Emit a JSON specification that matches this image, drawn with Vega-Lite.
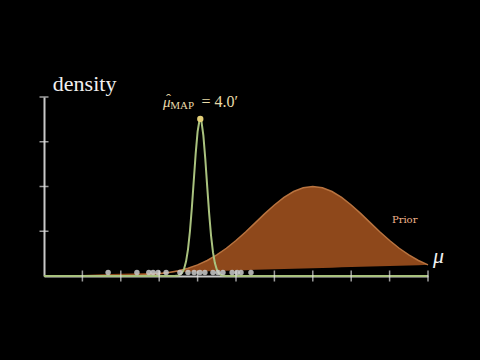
{
  "$schema": "https://vega.github.io/schema/vega-lite/v6.json",
  "width": 384,
  "height": 179,
  "autosize": "none",
  "padding": {"left": 44, "top": 97, "right": 52, "bottom": 84},
  "background": "#000000",
  "config": {"view": {"stroke": null}},
  "datasets": {
    "prior": [
      {"x": 0, "density": 0.0000, "base": 0.0000},
      {"x": 0.5, "density": 0.0001, "base": 0.0125},
      {"x": 1, "density": 0.0005, "base": 0.0249},
      {"x": 1.5, "density": 0.0018, "base": 0.0374},
      {"x": 2, "density": 0.0061, "base": 0.0498},
      {"x": 2.5, "density": 0.0184, "base": 0.0623},
      {"x": 3, "density": 0.0493, "base": 0.0747},
      {"x": 3.25, "density": 0.0771, "base": 0.0809},
      {"x": 3.5, "density": 0.1174, "base": 0.0872},
      {"x": 3.75, "density": 0.1734, "base": 0.0934},
      {"x": 4, "density": 0.2490, "base": 0.0996},
      {"x": 4.25, "density": 0.3473, "base": 0.1058},
      {"x": 4.5, "density": 0.4707, "base": 0.1121},
      {"x": 4.75, "density": 0.6196, "base": 0.1183},
      {"x": 5, "density": 0.7923, "base": 0.1245},
      {"x": 5.25, "density": 0.9844, "base": 0.1307},
      {"x": 5.5, "density": 1.1881, "base": 0.1370},
      {"x": 5.75, "density": 1.3930, "base": 0.1432},
      {"x": 6, "density": 1.5867, "base": 0.1494},
      {"x": 6.25, "density": 1.7558, "base": 0.1556},
      {"x": 6.5, "density": 1.8875, "base": 0.1619},
      {"x": 6.75, "density": 1.9713, "base": 0.1681},
      {"x": 7, "density": 2.0000, "base": 0.1743},
      {"x": 7.25, "density": 1.9713, "base": 0.1805},
      {"x": 7.5, "density": 1.8875, "base": 0.1868},
      {"x": 7.75, "density": 1.7558, "base": 0.1930},
      {"x": 8, "density": 1.5867, "base": 0.1992},
      {"x": 8.25, "density": 1.3930, "base": 0.2054},
      {"x": 8.5, "density": 1.1881, "base": 0.2117},
      {"x": 8.75, "density": 0.9844, "base": 0.2179},
      {"x": 9, "density": 0.7923, "base": 0.2241},
      {"x": 9.25, "density": 0.6196, "base": 0.2303},
      {"x": 9.5, "density": 0.4707, "base": 0.2366},
      {"x": 9.75, "density": 0.3473, "base": 0.2428},
      {"x": 10, "density": 0.2490, "base": 0.2490}
    ],
    "posterior": [
      {"x": 0, "density": 0},
      {"x": 3.3, "density": 0.0001},
      {"x": 3.4, "density": 0.0015},
      {"x": 3.5, "density": 0.0127},
      {"x": 3.55, "density": 0.0327},
      {"x": 3.6, "density": 0.0768},
      {"x": 3.65, "density": 0.1660},
      {"x": 3.7, "density": 0.3287},
      {"x": 3.75, "density": 0.5969},
      {"x": 3.8, "density": 0.9944},
      {"x": 3.85, "density": 1.5192},
      {"x": 3.9, "density": 2.1289},
      {"x": 3.95, "density": 2.7359},
      {"x": 4.0, "density": 3.2247},
      {"x": 4.05, "density": 3.4858},
      {"x": 4.07, "density": 3.5100},
      {"x": 4.1, "density": 3.4558},
      {"x": 4.15, "density": 3.1421},
      {"x": 4.2, "density": 2.6202},
      {"x": 4.25, "density": 2.0038},
      {"x": 4.3, "density": 1.4055},
      {"x": 4.35, "density": 0.9041},
      {"x": 4.4, "density": 0.5334},
      {"x": 4.45, "density": 0.2887},
      {"x": 4.5, "density": 0.1432},
      {"x": 4.55, "density": 0.0652},
      {"x": 4.6, "density": 0.0272},
      {"x": 4.65, "density": 0.0104},
      {"x": 4.75, "density": 0.0012},
      {"x": 4.85, "density": 0.0001},
      {"x": 10, "density": 0}
    ],
    "obs": [
      {"x": 1.67}, {"x": 2.42}, {"x": 2.73}, {"x": 2.84}, {"x": 2.97}, {"x": 3.18},
      {"x": 3.54}, {"x": 3.75}, {"x": 3.91}, {"x": 4.06}, {"x": 4.19}, {"x": 4.40},
      {"x": 4.53}, {"x": 4.66}, {"x": 4.90}, {"x": 5.03}, {"x": 5.13}, {"x": 5.39}
    ],
    "xticks": [{"v": 1}, {"v": 2}, {"v": 3}, {"v": 4}, {"v": 5}, {"v": 6}, {"v": 7}, {"v": 8}, {"v": 9}, {"v": 10}],
    "yticks": [{"v": 1}, {"v": 2}, {"v": 3}, {"v": 4}]
  },
  "encoding": {
    "x": {"type": "quantitative", "scale": {"domain": [0, 10], "nice": false, "zero": false},
      "axis": {"domain": true, "domainColor": "#c8c8c8", "domainWidth": 2, "ticks": false, "labels": false, "grid": false, "title": null}},
    "y": {"type": "quantitative", "scale": {"domain": [0, 4], "nice": false},
      "axis": {"domain": true, "domainColor": "#c8c8c8", "domainWidth": 2, "ticks": false, "labels": false, "grid": false, "title": null}}
  },
  "layer": [
    {
      "data": {"name": "prior"},
      "mark": {"type": "area", "color": "#8e481b", "opacity": 1},
      "encoding": {
        "x": {"field": "x", "type": "quantitative"},
        "y": {"field": "density", "type": "quantitative"},
        "y2": {"field": "base"}
      }
    },
    {
      "data": {"name": "prior"},
      "mark": {"type": "line", "color": "#b8733f", "strokeWidth": 1.5},
      "encoding": {
        "x": {"field": "x", "type": "quantitative"},
        "y": {"field": "density", "type": "quantitative"}
      }
    },
    {
      "data": {"name": "posterior"},
      "mark": {"type": "line", "color": "#a9c27e", "strokeWidth": 2},
      "encoding": {
        "x": {"field": "x", "type": "quantitative"},
        "y": {"field": "density", "type": "quantitative"}
      }
    },
    {
      "data": {"name": "obs"},
      "mark": {"type": "point", "filled": true, "color": "#cccccc", "opacity": 0.85, "size": 30},
      "encoding": {
        "x": {"field": "x", "type": "quantitative"},
        "y": {"datum": 0.08, "type": "quantitative"}
      }
    },
    {
      "data": {"name": "xticks"},
      "mark": {"type": "tick", "orient": "vertical", "size": 11, "thickness": 1.5, "color": "#e0e0e0"},
      "encoding": {
        "x": {"field": "v", "type": "quantitative"},
        "y": {"datum": 0, "type": "quantitative"}
      }
    },
    {
      "data": {"name": "yticks"},
      "mark": {"type": "tick", "orient": "horizontal", "size": 9, "thickness": 1.5, "color": "#e0e0e0"},
      "encoding": {
        "x": {"datum": 0, "type": "quantitative"},
        "y": {"field": "v", "type": "quantitative"}
      }
    },
    {
      "data": {"values": [{"x": 4.07, "density": 3.51}]},
      "mark": {"type": "point", "filled": true, "color": "#e3cf78", "opacity": 1, "size": 40},
      "encoding": {
        "x": {"field": "x", "type": "quantitative"},
        "y": {"field": "density", "type": "quantitative"}
      }
    },
    {
      "data": {"values": [{"x": 0.23, "y": 4.13, "label": "density"}]},
      "mark": {"type": "text", "align": "left", "baseline": "alphabetic", "font": "Liberation Serif", "fontSize": 22, "color": "#f0f0f0"},
      "encoding": {
        "x": {"field": "x", "type": "quantitative"},
        "y": {"field": "y", "type": "quantitative"},
        "text": {"field": "label"}
      }
    },
    {
      "data": {"values": [{"x": 10.13, "y": 0.29, "label": "μ"}]},
      "mark": {"type": "text", "align": "left", "baseline": "alphabetic", "font": "Liberation Serif", "fontStyle": "italic", "fontSize": 22, "color": "#f0f0f0"},
      "encoding": {
        "x": {"field": "x", "type": "quantitative"},
        "y": {"field": "y", "type": "quantitative"},
        "text": {"field": "label"}
      }
    },
    {
      "data": {"values": [{"x": 9.06, "y": 1.18, "label": "Prior"}]},
      "mark": {"type": "text", "align": "left", "baseline": "alphabetic", "font": "DejaVu Serif", "fontSize": 10, "color": "#f0b38c"},
      "encoding": {
        "x": {"field": "x", "type": "quantitative"},
        "y": {"field": "y", "type": "quantitative"},
        "text": {"field": "label"}
      }
    },
    {
      "data": {"values": [{"x": 3.10, "y": 3.78, "label": "μ"}]},
      "mark": {"type": "text", "align": "left", "baseline": "alphabetic", "font": "Liberation Serif", "fontStyle": "italic", "fontSize": 15, "color": "#e8dba8"},
      "encoding": {
        "x": {"field": "x", "type": "quantitative"},
        "y": {"field": "y", "type": "quantitative"},
        "text": {"field": "label"}
      }
    },
    {
      "data": {"values": [{"x": 3.24, "y": 3.84, "label": "ˆ"}]},
      "mark": {"type": "text", "align": "center", "baseline": "alphabetic", "font": "Liberation Serif", "fontSize": 15, "color": "#e8dba8"},
      "encoding": {
        "x": {"field": "x", "type": "quantitative"},
        "y": {"field": "y", "type": "quantitative"},
        "text": {"field": "label"}
      }
    },
    {
      "data": {"values": [{"x": 3.29, "y": 3.73, "label": "MAP"}]},
      "mark": {"type": "text", "align": "left", "baseline": "alphabetic", "font": "Liberation Serif", "fontSize": 11, "color": "#e8dba8"},
      "encoding": {
        "x": {"field": "x", "type": "quantitative"},
        "y": {"field": "y", "type": "quantitative"},
        "text": {"field": "label"}
      }
    },
    {
      "data": {"values": [{"x": 4.10, "y": 3.78, "label": "= 4.0′"}]},
      "mark": {"type": "text", "align": "left", "baseline": "alphabetic", "font": "Liberation Serif", "fontSize": 16, "color": "#e8dba8"},
      "encoding": {
        "x": {"field": "x", "type": "quantitative"},
        "y": {"field": "y", "type": "quantitative"},
        "text": {"field": "label"}
      }
    }
  ]
}
